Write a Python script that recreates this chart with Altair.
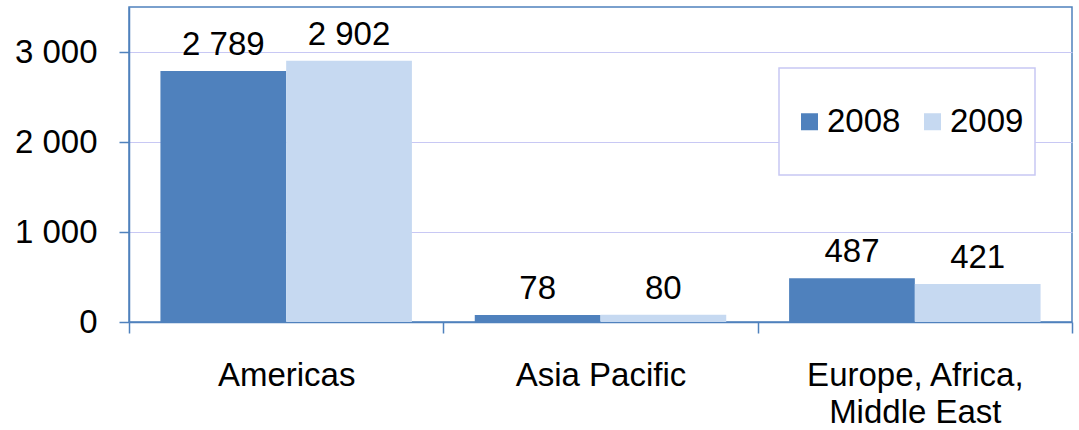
import altair as alt
import pandas as pd

categories = ["Americas", "Asia Pacific", "Europe, Africa, Middle East"]
years = ["2008", "2009"]
values_2008 = [2789, 78, 487]
values_2009 = [2902, 80, 421]
y_ticks = [0, 1000, 2000, 3000]

rows = []
for c, a, b in zip(categories, values_2008, values_2009):
    rows.append({"region": c, "year": years[0], "value": a})
    rows.append({"region": c, "year": years[1], "value": b})
df = pd.DataFrame(rows)
df["label"] = df["value"].map(lambda v: f"{v:,}".replace(",", " "))

FONT = "Liberation Sans"
AXIS = "#4F81BD"
GRID = "#C8C8F4"
FS = 33

x = alt.X(
    "region:N",
    sort=categories,
    title=None,
    scale=alt.Scale(paddingInner=0, paddingOuter=0),
    axis=alt.Axis(
        labelAngle=0,
        tickBand="extent",
        tickSize=11,
        tickColor=AXIS,
        tickWidth=1.5,
        domainColor=AXIS,
        domainWidth=1.5,
        labelFont=FONT,
        labelFontSize=FS,
        labelColor="black",
        labelPadding=26,
        labelLineHeight=37,
        labelLimit=0,
        labelExpr="datum.value == 'Europe, Africa, Middle East' ? ['Europe, Africa,', 'Middle East'] : datum.label",
        grid=False,
    ),
)
xo = alt.XOffset("year:N", sort=years, scale=alt.Scale(paddingInner=0, paddingOuter=0.25))
y = alt.Y(
    "value:Q",
    title=None,
    scale=alt.Scale(domain=[0, 3500], nice=False),
    axis=alt.Axis(
        values=y_ticks,
        labelExpr="replace(format(datum.value, ','), ',', ' ')",
        grid=True,
        gridColor=GRID,
        gridWidth=1.2,
        tickSize=10,
        tickColor=AXIS,
        tickWidth=1.5,
        domainColor=AXIS,
        domainWidth=1.5,
        labelFont=FONT,
        labelFontSize=FS,
        labelColor="black",
        labelPadding=22,
    ),
)

bars = alt.Chart(df).mark_bar().encode(
    x=x,
    xOffset=xo,
    y=y,
    color=alt.Color(
        "year:N",
        sort=years,
        scale=alt.Scale(domain=years, range=["#4F81BD", "#C6D9F1"]),
        legend=alt.Legend(
            title=None,
            orient="none",
            legendX=664,
            legendY=98,
            direction="horizontal",
            symbolType="square",
            symbolSize=289,
            symbolStrokeWidth=0,
            labelFont=FONT,
            labelFontSize=FS,
            labelColor="black",
            labelOffset=1,
            columnPadding=15,
            padding=0,
        ),
    ),
)

text = alt.Chart(df).mark_text(
    font=FONT, fontSize=FS, color="black", baseline="alphabetic", dy=-16
).encode(x=x, xOffset=xo, y=y, text="label:N")

frame = alt.Chart(pd.DataFrame({"d": [0]})).mark_rect(
    fill="white", stroke=GRID, strokeWidth=1.5
).encode(x=alt.value(650), x2=alt.value(906), y=alt.value(61), y2=alt.value(168))

chart = (
    alt.layer(bars, frame, text)
    .properties(
        width=943,
        height=315,
        autosize=alt.AutoSizeParams(type="none"),
        padding={"left": 129, "top": 7, "right": 7, "bottom": 108},
        background="white",
    )
    .configure_view(stroke=AXIS, strokeWidth=1.5)
)

chart.save("out.html", embed_options={"renderer": "svg", "actions": False})
